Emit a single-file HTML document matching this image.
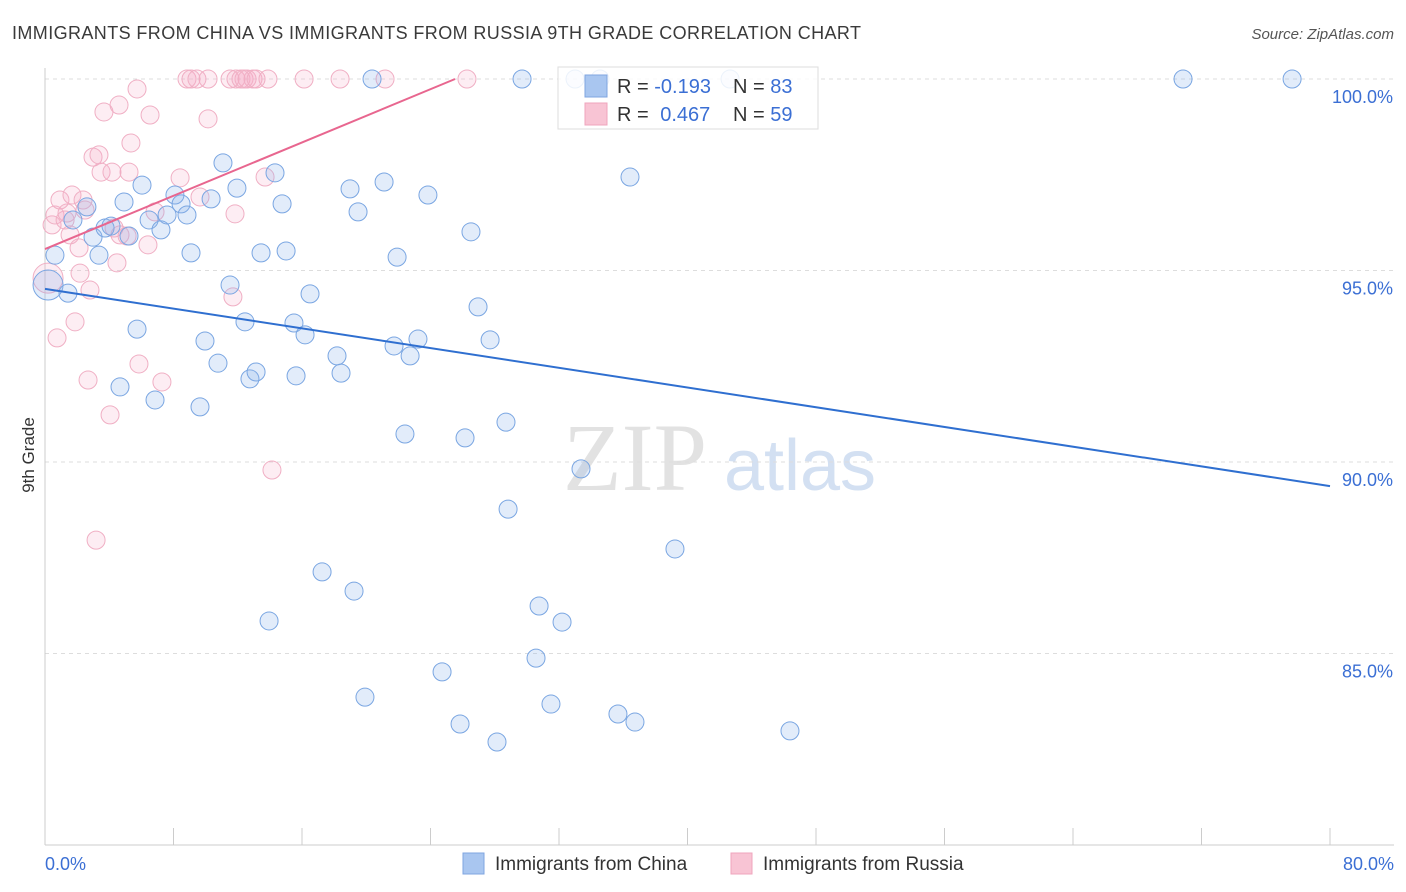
<!DOCTYPE html>
<html><head><meta charset="utf-8"><style>
body{margin:0;background:#fff;width:1406px;height:892px;overflow:hidden;font-family:"Liberation Sans",sans-serif}
svg{position:absolute;left:0;top:0}
</style></head><body>
<svg id="chart" width="1406" height="892">
<text x="12" y="39" font-size="18" fill="#3a3a3a" letter-spacing="0.4">IMMIGRANTS FROM CHINA VS IMMIGRANTS FROM RUSSIA 9TH GRADE CORRELATION CHART</text>
<text x="1394" y="39" font-size="15" fill="#555" font-style="italic" text-anchor="end">Source: ZipAtlas.com</text>
<text x="34" y="455" font-size="17" fill="#333" transform="rotate(-90 34 455)" text-anchor="middle">9th Grade</text>
<g><text x="635" y="490" font-size="96" fill="#e2e2e2" font-family="Liberation Serif" text-anchor="middle">ZIP</text><text x="800" y="490" font-size="72" fill="#d3e0f2" text-anchor="middle">atlas</text></g>
<g id="grid"></g><g id="pts"></g><g id="lines"></g>
<g>
<rect x="558" y="67" width="260" height="62" fill="#fff" fill-opacity="0.85" stroke="#ddd"/>
<rect x="585" y="75" width="22" height="22" fill="#a9c6f0" stroke="#7fa5e0"/>
<rect x="585" y="103" width="22" height="22" fill="#f8c4d4" stroke="#efa5bd"/>
<text x="617" y="93" font-size="20" fill="#333">R = <tspan fill="#3b6fd4">-0.193</tspan></text>
<text x="733" y="93" font-size="20" fill="#333">N = <tspan fill="#3b6fd4">83</tspan></text>
<text x="617" y="121" font-size="20" fill="#333">R = <tspan fill="#3b6fd4" dx="6">0.467</tspan></text>
<text x="733" y="121" font-size="20" fill="#333">N = <tspan fill="#3b6fd4">59</tspan></text>
</g>
<g>
<rect x="463" y="853" width="21" height="21" fill="#a9c6f0" stroke="#7fa5e0"/>
<text x="495" y="870" font-size="19" fill="#333">Immigrants from China</text>
<rect x="731" y="853" width="21" height="21" fill="#f8c4d4" stroke="#efa5bd"/>
<text x="763" y="870" font-size="19" fill="#333">Immigrants from Russia</text>
</g>
</svg>
<script>
const yTicks=[100,95,90,85];
const xTicks=[0,8,16,24,32,40,48,56,64,72,80];
const xLabels=["0.0%","80.0%"];
const chinaX=[0.19,0.62,1.43,1.74,2.61,2.99,3.36,3.74,4.11,4.67,4.92,5.23,5.73,6.04,6.48,6.85,7.22,7.60,8.09,8.47,8.84,9.09,9.65,9.96,10.34,10.77,11.08,11.52,11.95,12.45,12.76,13.14,13.45,13.95,14.32,14.76,15.01,15.50,15.63,16.19,16.50,17.25,18.18,18.43,18.99,19.24,19.49,19.92,20.36,21.11,21.73,21.92,22.41,22.73,23.22,23.84,24.72,25.84,26.15,26.52,26.96,27.71,28.14,28.70,28.83,29.70,30.57,30.76,31.50,32.19,33.00,33.37,34.55,35.67,36.42,36.73,39.22,42.65,46.38,70.85,77.64];
const chinaY=[94.62,95.40,94.41,96.32,96.66,95.87,95.40,96.11,96.16,91.96,96.79,95.90,93.47,97.23,96.32,91.62,96.06,96.45,96.97,96.74,96.45,95.46,91.44,93.16,96.87,92.58,97.81,94.62,97.15,93.66,92.17,92.35,95.46,85.85,97.55,96.74,95.51,93.63,92.25,93.32,94.39,87.13,92.77,92.32,97.13,86.63,96.53,83.86,100,97.31,93.03,95.35,90.73,92.77,93.21,96.97,84.52,83.16,90.63,96.01,94.05,93.19,82.69,91.04,88.77,100,84.88,86.24,83.68,85.82,100,89.82,100,83.42,97.44,83.21,87.73,100,82.98,100,100];
const russiaX=[0.19,0.44,0.62,0.75,0.93,1.25,1.37,1.56,1.68,1.87,2.12,2.18,2.37,2.49,2.68,2.80,2.99,3.18,3.36,3.49,3.67,4.05,4.17,4.30,4.48,4.61,4.67,5.11,5.23,5.35,5.73,5.85,6.41,6.54,6.85,7.28,8.41,8.84,9.09,9.46,9.65,10.15,10.15,11.52,11.70,11.83,11.89,12.20,12.39,12.58,12.95,13.14,13.70,13.88,14.13,16.13,18.37,21.17,26.27];
const russiaY=[94.80,96.19,96.45,93.24,96.84,96.32,96.50,95.93,96.97,93.66,95.59,94.93,96.84,96.58,92.14,94.49,97.96,87.96,98.02,97.57,99.14,91.23,97.57,96.11,95.20,99.32,95.93,95.90,97.57,98.33,99.74,92.56,95.67,99.06,96.53,92.09,97.42,100,100,100,96.92,100,98.96,100,94.31,96.48,100,100,100,100,100,100,97.44,100,89.79,100,100,100,100];
const chinaTrend=[[0,94.52],[80,89.37]];
const russiaTrend=[[0,95.56],[25.53,100]];
const NS='http://www.w3.org/2000/svg';
const sx=v=>45+v/80*1285, sy=v=>79+(100-v)*38.3;
function mk(t,a,p){const e=document.createElementNS(NS,t);for(const k in a)e.setAttribute(k,a[k]);p.appendChild(e);return e;}
const grid=document.getElementById('grid'),pts=document.getElementById('pts'),lines=document.getElementById('lines');
yTicks.forEach(t=>{
 const l=mk('line',{x1:45,x2:1394,y1:sy(t),y2:sy(t),stroke:'#ddd','stroke-dasharray':'4,4'},grid);
 
 
 const tx=mk('text',{x:1393,y:sy(t)+24,'font-size':18,fill:'#3b6fd4','text-anchor':'end'},grid);tx.textContent=t.toFixed(1)+'%';
 
 
});
const ax=mk('line',{x1:45,x2:45,y1:68,y2:845,stroke:'#ccc'},grid);


const bx=mk('line',{x1:45,x2:1394,y1:845,y2:845,stroke:'#ccc'},grid);


xTicks.forEach(t=>{const l=mk('line',{x1:sx(t),x2:sx(t),y1:828,y2:845,stroke:'#ccc'},grid);
 
 });
[[0,'start',45],[80,'end',1394]].forEach((d,i)=>{const tx=mk('text',{x:d[2],y:870,'font-size':18,fill:'#3b6fd4','text-anchor':d[1]},grid);tx.textContent=xLabels[i];
 
 });
function draw(X,Y,fill,stroke,name){X.forEach((x,i)=>{const r=(i===0)?15:9;
 const c=mk('circle',{cx:sx(x),cy:sy(Y[i]),r:r,fill:fill,stroke:stroke,'stroke-width':1},pts);
 
 });}
draw(russiaX,russiaY,'rgba(246,175,200,0.22)','#f0afc4','russia-point');
draw(chinaX,chinaY,'rgba(140,180,235,0.25)','#7aa6e2','china-point');
const l1=mk('line',{x1:sx(chinaTrend[0][0]),y1:sy(chinaTrend[0][1]),x2:sx(chinaTrend[1][0]),y2:sy(chinaTrend[1][1]),stroke:'#2f6fd0','stroke-width':2},lines);


const l2=mk('line',{x1:sx(russiaTrend[0][0]),y1:sy(russiaTrend[0][1]),x2:sx(russiaTrend[1][0]),y2:sy(russiaTrend[1][1]),stroke:'#e8668f','stroke-width':2},lines);


</script>
</body></html>
